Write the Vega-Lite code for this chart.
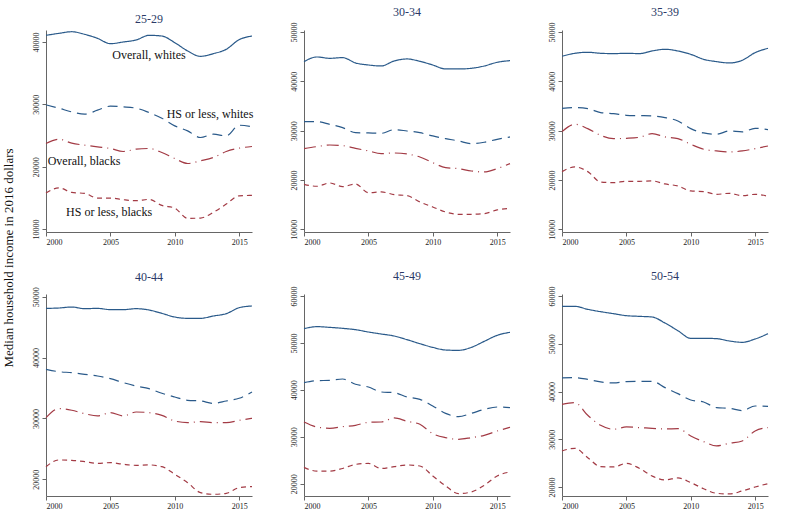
{
  "$schema": "https://vega.github.io/schema/vega-lite/v6.json",
  "padding": {"left": 2, "top": 5, "right": 5, "bottom": 5},
  "config": {
    "font": "Liberation Serif",
    "view": {"stroke": null},
    "axis": {"domainColor": "#666", "tickColor": "#666", "labelFontSize": 8, "labelColor": "#222", "grid": false, "tickSize": 4, "labelPadding": 2, "labelFont": "Liberation Serif"},
    "axisY": {"labelAngle": -90},
    "title": {"fontSize": 12, "fontWeight": "normal", "color": "#2b3a67", "offset": 3, "font": "Liberation Serif"},
    "line": {"interpolate": "monotone", "strokeWidth": 1.2}
  },
  "title": {"text": "Median household income in 2016 dollars", "orient": "left", "anchor": "middle", "fontSize": 13, "color": "#111", "offset": 16},
  "datasets": {
    "income": [
      {"age": "25-29", "year": 2000, "ow": 41070, "hw": 29910, "ob": 23720, "hb": 15760},
      {"age": "25-29", "year": 2001, "ow": 41390, "hw": 29380, "ob": 24410, "hb": 16610},
      {"age": "25-29", "year": 2002, "ow": 41650, "hw": 28790, "ob": 23770, "hb": 15870},
      {"age": "25-29", "year": 2003, "ow": 41230, "hw": 28420, "ob": 23450, "hb": 15710},
      {"age": "25-29", "year": 2004, "ow": 40590, "hw": 29060, "ob": 23180, "hb": 14970},
      {"age": "25-29", "year": 2005, "ow": 39730, "hw": 29700, "ob": 22920, "hb": 14970},
      {"age": "25-29", "year": 2006, "ow": 40000, "hw": 29590, "ob": 22430, "hb": 14700},
      {"age": "25-29", "year": 2007, "ow": 40320, "hw": 29380, "ob": 22810, "hb": 14540},
      {"age": "25-29", "year": 2008, "ow": 41070, "hw": 28680, "ob": 22920, "hb": 14750},
      {"age": "25-29", "year": 2009, "ow": 40960, "hw": 27770, "ob": 22270, "hb": 13790},
      {"age": "25-29", "year": 2010, "ow": 39900, "hw": 26550, "ob": 21310, "hb": 13360},
      {"age": "25-29", "year": 2011, "ow": 38560, "hw": 25740, "ob": 20510, "hb": 11710},
      {"age": "25-29", "year": 2012, "ow": 37700, "hw": 24680, "ob": 20940, "hb": 11760},
      {"age": "25-29", "year": 2013, "ow": 38130, "hw": 25210, "ob": 21470, "hb": 12670},
      {"age": "25-29", "year": 2014, "ow": 38830, "hw": 24940, "ob": 22430, "hb": 14000},
      {"age": "25-29", "year": 2015, "ow": 40370, "hw": 26650, "ob": 22970, "hb": 15330},
      {"age": "25-29", "year": 2016, "ow": 40960, "hw": 26390, "ob": 23240, "hb": 15390},
      {"age": "30-34", "year": 2000, "ow": 43990, "hw": 31820, "ob": 26350, "hb": 19120},
      {"age": "30-34", "year": 2001, "ow": 44930, "hw": 31820, "ob": 26760, "hb": 18720},
      {"age": "30-34", "year": 2002, "ow": 44660, "hw": 31280, "ob": 27090, "hb": 19390},
      {"age": "30-34", "year": 2003, "ow": 44800, "hw": 30610, "ob": 26960, "hb": 18650},
      {"age": "30-34", "year": 2004, "ow": 43720, "hw": 29590, "ob": 26420, "hb": 19190},
      {"age": "30-34", "year": 2005, "ow": 43310, "hw": 29530, "ob": 25880, "hb": 17430},
      {"age": "30-34", "year": 2006, "ow": 43110, "hw": 29460, "ob": 25340, "hb": 17570},
      {"age": "30-34", "year": 2007, "ow": 44120, "hw": 30200, "ob": 25470, "hb": 17030},
      {"age": "30-34", "year": 2008, "ow": 44530, "hw": 29930, "ob": 25270, "hb": 16820},
      {"age": "30-34", "year": 2009, "ow": 44050, "hw": 29590, "ob": 24660, "hb": 15540},
      {"age": "30-34", "year": 2010, "ow": 43310, "hw": 28920, "ob": 23510, "hb": 14530},
      {"age": "30-34", "year": 2011, "ow": 42500, "hw": 28380, "ob": 22500, "hb": 13510},
      {"age": "30-34", "year": 2012, "ow": 42500, "hw": 27910, "ob": 22300, "hb": 13040},
      {"age": "30-34", "year": 2013, "ow": 42640, "hw": 27360, "ob": 21820, "hb": 13040},
      {"age": "30-34", "year": 2014, "ow": 43110, "hw": 27640, "ob": 21620, "hb": 13180},
      {"age": "30-34", "year": 2015, "ow": 43850, "hw": 28240, "ob": 22300, "hb": 13920},
      {"age": "30-34", "year": 2016, "ow": 44190, "hw": 28720, "ob": 23310, "hb": 14260},
      {"age": "35-39", "year": 2000, "ow": 45070, "hw": 34530, "ob": 29800, "hb": 21690},
      {"age": "35-39", "year": 2001, "ow": 45680, "hw": 34660, "ob": 31280, "hb": 22640},
      {"age": "35-39", "year": 2002, "ow": 45880, "hw": 34460, "ob": 30410, "hb": 21690},
      {"age": "35-39", "year": 2003, "ow": 45680, "hw": 33650, "ob": 29050, "hb": 19590},
      {"age": "35-39", "year": 2004, "ow": 45610, "hw": 33450, "ob": 28380, "hb": 19460},
      {"age": "35-39", "year": 2005, "ow": 45680, "hw": 33110, "ob": 28450, "hb": 19730},
      {"age": "35-39", "year": 2006, "ow": 45610, "hw": 33040, "ob": 28650, "hb": 19730},
      {"age": "35-39", "year": 2007, "ow": 46150, "hw": 32970, "ob": 29390, "hb": 19800},
      {"age": "35-39", "year": 2008, "ow": 46490, "hw": 32640, "ob": 28720, "hb": 19190},
      {"age": "35-39", "year": 2009, "ow": 46150, "hw": 31960, "ob": 28380, "hb": 18780},
      {"age": "35-39", "year": 2010, "ow": 45470, "hw": 30410, "ob": 27230, "hb": 17770},
      {"age": "35-39", "year": 2011, "ow": 44460, "hw": 29530, "ob": 26220, "hb": 17640},
      {"age": "35-39", "year": 2012, "ow": 43990, "hw": 29260, "ob": 25880, "hb": 17090},
      {"age": "35-39", "year": 2013, "ow": 43720, "hw": 29930, "ob": 25680, "hb": 17300},
      {"age": "35-39", "year": 2014, "ow": 44260, "hw": 29730, "ob": 25880, "hb": 16820},
      {"age": "35-39", "year": 2015, "ow": 45810, "hw": 30470, "ob": 26350, "hb": 17090},
      {"age": "35-39", "year": 2016, "ow": 46690, "hw": 30200, "ob": 26890, "hb": 16690},
      {"age": "40-44", "year": 2000, "ow": 48080, "hw": 38070, "ob": 30130, "hb": 22070},
      {"age": "40-44", "year": 2001, "ow": 48140, "hw": 37680, "ob": 31610, "hb": 23180},
      {"age": "40-44", "year": 2002, "ow": 48300, "hw": 37520, "ob": 31340, "hb": 23120},
      {"age": "40-44", "year": 2003, "ow": 48030, "hw": 37250, "ob": 30790, "hb": 22910},
      {"age": "40-44", "year": 2004, "ow": 48080, "hw": 36970, "ob": 30410, "hb": 22630},
      {"age": "40-44", "year": 2005, "ow": 47870, "hw": 36530, "ob": 30950, "hb": 22740},
      {"age": "40-44", "year": 2006, "ow": 47870, "hw": 35880, "ob": 30410, "hb": 22470},
      {"age": "40-44", "year": 2007, "ow": 48030, "hw": 35330, "ob": 31060, "hb": 22300},
      {"age": "40-44", "year": 2008, "ow": 47810, "hw": 34890, "ob": 30950, "hb": 22360},
      {"age": "40-44", "year": 2009, "ow": 47260, "hw": 34130, "ob": 30510, "hb": 22090},
      {"age": "40-44", "year": 2010, "ow": 46660, "hw": 33520, "ob": 29580, "hb": 20820},
      {"age": "40-44", "year": 2011, "ow": 46440, "hw": 32980, "ob": 29310, "hb": 19450},
      {"age": "40-44", "year": 2012, "ow": 46440, "hw": 32870, "ob": 29470, "hb": 17810},
      {"age": "40-44", "year": 2013, "ow": 46830, "hw": 32480, "ob": 29310, "hb": 17540},
      {"age": "40-44", "year": 2014, "ow": 47210, "hw": 32870, "ob": 29310, "hb": 17700},
      {"age": "40-44", "year": 2015, "ow": 48190, "hw": 33310, "ob": 29690, "hb": 18630},
      {"age": "40-44", "year": 2016, "ow": 48470, "hw": 34350, "ob": 30020, "hb": 18800},
      {"age": "45-49", "year": 2000, "ow": 53040, "hw": 41530, "ob": 33150, "hb": 23470},
      {"age": "45-49", "year": 2001, "ow": 53470, "hw": 41960, "ob": 32090, "hb": 22690},
      {"age": "45-49", "year": 2002, "ow": 53320, "hw": 42030, "ob": 31800, "hb": 22690},
      {"age": "45-49", "year": 2003, "ow": 53110, "hw": 42310, "ob": 32160, "hb": 23250},
      {"age": "45-49", "year": 2004, "ow": 52830, "hw": 41190, "ob": 32440, "hb": 24110},
      {"age": "45-49", "year": 2005, "ow": 52330, "hw": 40610, "ob": 33080, "hb": 24320},
      {"age": "45-49", "year": 2006, "ow": 51900, "hw": 39550, "ob": 33150, "hb": 23250},
      {"age": "45-49", "year": 2007, "ow": 51480, "hw": 39400, "ob": 34010, "hb": 23640},
      {"age": "45-49", "year": 2008, "ow": 50700, "hw": 38480, "ob": 33300, "hb": 23990},
      {"age": "45-49", "year": 2009, "ow": 49840, "hw": 37980, "ob": 32660, "hb": 23780},
      {"age": "45-49", "year": 2010, "ow": 49060, "hw": 36560, "ob": 30670, "hb": 21660},
      {"age": "45-49", "year": 2011, "ow": 48490, "hw": 35000, "ob": 29820, "hb": 19530},
      {"age": "45-49", "year": 2012, "ow": 48420, "hw": 34290, "ob": 29460, "hb": 17900},
      {"age": "45-49", "year": 2013, "ow": 49060, "hw": 35000, "ob": 29820, "hb": 18240},
      {"age": "45-49", "year": 2014, "ow": 50340, "hw": 35850, "ob": 30310, "hb": 19660},
      {"age": "45-49", "year": 2015, "ow": 51620, "hw": 36350, "ob": 31230, "hb": 21660},
      {"age": "45-49", "year": 2016, "ow": 52260, "hw": 36210, "ob": 32020, "hb": 22500},
      {"age": "50-54", "year": 2000, "ow": 57840, "hw": 42840, "ob": 37320, "hb": 27550},
      {"age": "50-54", "year": 2001, "ow": 57840, "hw": 42900, "ob": 37670, "hb": 28110},
      {"age": "50-54", "year": 2002, "ow": 57210, "hw": 42550, "ob": 35020, "hb": 26150},
      {"age": "50-54", "year": 2003, "ow": 56720, "hw": 42000, "ob": 32920, "hb": 24270},
      {"age": "50-54", "year": 2004, "ow": 56300, "hw": 41790, "ob": 32090, "hb": 24200},
      {"age": "50-54", "year": 2005, "ow": 55880, "hw": 42070, "ob": 32580, "hb": 24970},
      {"age": "50-54", "year": 2006, "ow": 55740, "hw": 42140, "ob": 32440, "hb": 23920},
      {"age": "50-54", "year": 2007, "ow": 55600, "hw": 42140, "ob": 32300, "hb": 22300},
      {"age": "50-54", "year": 2008, "ow": 54340, "hw": 40810, "ob": 32160, "hb": 21480},
      {"age": "50-54", "year": 2009, "ow": 52740, "hw": 39550, "ob": 32230, "hb": 21900},
      {"age": "50-54", "year": 2010, "ow": 51140, "hw": 38230, "ob": 30690, "hb": 20920},
      {"age": "50-54", "year": 2011, "ow": 51140, "hw": 37810, "ob": 29500, "hb": 19650},
      {"age": "50-54", "year": 2012, "ow": 51070, "hw": 36620, "ob": 28600, "hb": 18690},
      {"age": "50-54", "year": 2013, "ow": 50580, "hw": 36480, "ob": 29150, "hb": 18550},
      {"age": "50-54", "year": 2014, "ow": 50300, "hw": 35990, "ob": 29640, "hb": 19180},
      {"age": "50-54", "year": 2015, "ow": 51000, "hw": 36970, "ob": 31740, "hb": 20000},
      {"age": "50-54", "year": 2016, "ow": 52110, "hw": 36900, "ob": 32440, "hb": 20710}
    ],
    "labels": [
      {"year": 2008.0, "income": 37914, "text": "Overall, whites"},
      {"year": 2012.74, "income": 28450, "text": "HS or less, whites"},
      {"year": 2002.95, "income": 20908, "text": "Overall, blacks"},
      {"year": 2004.9, "income": 12726, "text": "HS or less, blacks"}
    ]
  },
  "data": {"name": "income"},
  "columns": 3,
  "bounds": "flush",
  "spacing": {"row": 62, "column": 52},
  "concat": [
    {
      "title": "25-29",
      "width": 206, "height": 202,
      "layer": [
        {
          "transform": [{"filter": {"field": "age", "equal": "25-29"}}, {"fold": ["ow", "hw", "ob", "hb"], "as": ["series", "income"]}],
          "mark": {"type": "line"},
          "encoding": {
            "x": {"field": "year", "type": "quantitative", "scale": {"domain": [2000, 2016]}, "axis": {"values": [2000, 2005, 2010, 2015], "format": "d", "title": null}},
            "y": {"field": "income", "type": "quantitative", "scale": {"domain": [9520, 41925], "nice": false, "zero": false}, "axis": {"values": [10000, 20000, 30000, 40000], "format": "d", "title": null}},
            "color": {"field": "series", "type": "nominal", "scale": {"domain": ["ow", "hw", "ob", "hb"], "range": ["#2a5a8a", "#2a5a8a", "#a33b45", "#a33b45"]}, "legend": null},
            "strokeDash": {"field": "series", "type": "nominal", "scale": {"domain": ["ow", "hw", "ob", "hb"], "range": [[1, 0], [10, 6], [12, 5, 1, 5], [5, 4]]}, "legend": null}
          }
        },
        {
          "data": {"name": "labels"},
          "mark": {"type": "text", "fontSize": 12, "font": "Liberation Serif", "color": "#111"},
          "encoding": {
            "x": {"field": "year", "type": "quantitative"},
            "y": {"field": "income", "type": "quantitative"},
            "text": {"field": "text"}
          }
        }
      ]
    },
    {
      "title": "30-34",
      "width": 206, "height": 202,
      "transform": [{"filter": {"field": "age", "equal": "30-34"}}, {"fold": ["ow", "hw", "ob", "hb"], "as": ["series", "income"]}],
      "mark": {"type": "line"},
      "encoding": {
        "x": {"field": "year", "type": "quantitative", "scale": {"domain": [2000, 2016]}, "axis": {"values": [2000, 2005, 2010, 2015], "format": "d", "title": null}},
        "y": {"field": "income", "type": "quantitative", "scale": {"domain": [9450, 50400], "nice": false, "zero": false}, "axis": {"values": [10000, 20000, 30000, 40000, 50000], "format": "d", "title": null}},
        "color": {"field": "series", "type": "nominal", "scale": {"domain": ["ow", "hw", "ob", "hb"], "range": ["#2a5a8a", "#2a5a8a", "#a33b45", "#a33b45"]}, "legend": null},
        "strokeDash": {"field": "series", "type": "nominal", "scale": {"domain": ["ow", "hw", "ob", "hb"], "range": [[1, 0], [10, 6], [12, 5, 1, 5], [5, 4]]}, "legend": null}
      }
    },
    {
      "title": "35-39",
      "width": 206, "height": 202,
      "transform": [{"filter": {"field": "age", "equal": "35-39"}}, {"fold": ["ow", "hw", "ob", "hb"], "as": ["series", "income"]}],
      "mark": {"type": "line"},
      "encoding": {
        "x": {"field": "year", "type": "quantitative", "scale": {"domain": [2000, 2016]}, "axis": {"values": [2000, 2005, 2010, 2015], "format": "d", "title": null}},
        "y": {"field": "income", "type": "quantitative", "scale": {"domain": [9450, 50400], "nice": false, "zero": false}, "axis": {"values": [10000, 20000, 30000, 40000, 50000], "format": "d", "title": null}},
        "color": {"field": "series", "type": "nominal", "scale": {"domain": ["ow", "hw", "ob", "hb"], "range": ["#2a5a8a", "#2a5a8a", "#a33b45", "#a33b45"]}, "legend": null},
        "strokeDash": {"field": "series", "type": "nominal", "scale": {"domain": ["ow", "hw", "ob", "hb"], "range": [[1, 0], [10, 6], [12, 5, 1, 5], [5, 4]]}, "legend": null}
      }
    },
    {
      "title": "40-44",
      "width": 206, "height": 202,
      "transform": [{"filter": {"field": "age", "equal": "40-44"}}, {"fold": ["ow", "hw", "ob", "hb"], "as": ["series", "income"]}],
      "mark": {"type": "line"},
      "encoding": {
        "x": {"field": "year", "type": "quantitative", "scale": {"domain": [2000, 2016]}, "axis": {"values": [2000, 2005, 2010, 2015], "format": "d", "title": null}},
        "y": {"field": "income", "type": "quantitative", "scale": {"domain": [17260, 50440], "nice": false, "zero": false}, "axis": {"values": [20000, 30000, 40000, 50000], "format": "d", "title": null}},
        "color": {"field": "series", "type": "nominal", "scale": {"domain": ["ow", "hw", "ob", "hb"], "range": ["#2a5a8a", "#2a5a8a", "#a33b45", "#a33b45"]}, "legend": null},
        "strokeDash": {"field": "series", "type": "nominal", "scale": {"domain": ["ow", "hw", "ob", "hb"], "range": [[1, 0], [10, 6], [12, 5, 1, 5], [5, 4]]}, "legend": null}
      }
    },
    {
      "title": "45-49",
      "width": 206, "height": 202,
      "transform": [{"filter": {"field": "age", "equal": "45-49"}}, {"fold": ["ow", "hw", "ob", "hb"], "as": ["series", "income"]}],
      "mark": {"type": "line"},
      "encoding": {
        "x": {"field": "year", "type": "quantitative", "scale": {"domain": [2000, 2016]}, "axis": {"values": [2000, 2005, 2010, 2015], "format": "d", "title": null}},
        "y": {"field": "income", "type": "quantitative", "scale": {"domain": [17380, 60430], "nice": false, "zero": false}, "axis": {"values": [20000, 30000, 40000, 50000, 60000], "format": "d", "title": null}},
        "color": {"field": "series", "type": "nominal", "scale": {"domain": ["ow", "hw", "ob", "hb"], "range": ["#2a5a8a", "#2a5a8a", "#a33b45", "#a33b45"]}, "legend": null},
        "strokeDash": {"field": "series", "type": "nominal", "scale": {"domain": ["ow", "hw", "ob", "hb"], "range": [[1, 0], [10, 6], [12, 5, 1, 5], [5, 4]]}, "legend": null}
      }
    },
    {
      "title": "50-54",
      "width": 206, "height": 202,
      "transform": [{"filter": {"field": "age", "equal": "50-54"}}, {"fold": ["ow", "hw", "ob", "hb"], "as": ["series", "income"]}],
      "mark": {"type": "line"},
      "encoding": {
        "x": {"field": "year", "type": "quantitative", "scale": {"domain": [2000, 2016]}, "axis": {"values": [2000, 2005, 2010, 2015], "format": "d", "title": null}},
        "y": {"field": "income", "type": "quantitative", "scale": {"domain": [18120, 60420], "nice": false, "zero": false}, "axis": {"values": [20000, 30000, 40000, 50000, 60000], "format": "d", "title": null}},
        "color": {"field": "series", "type": "nominal", "scale": {"domain": ["ow", "hw", "ob", "hb"], "range": ["#2a5a8a", "#2a5a8a", "#a33b45", "#a33b45"]}, "legend": null},
        "strokeDash": {"field": "series", "type": "nominal", "scale": {"domain": ["ow", "hw", "ob", "hb"], "range": [[1, 0], [10, 6], [12, 5, 1, 5], [5, 4]]}, "legend": null}
      }
    }
  ]
}
